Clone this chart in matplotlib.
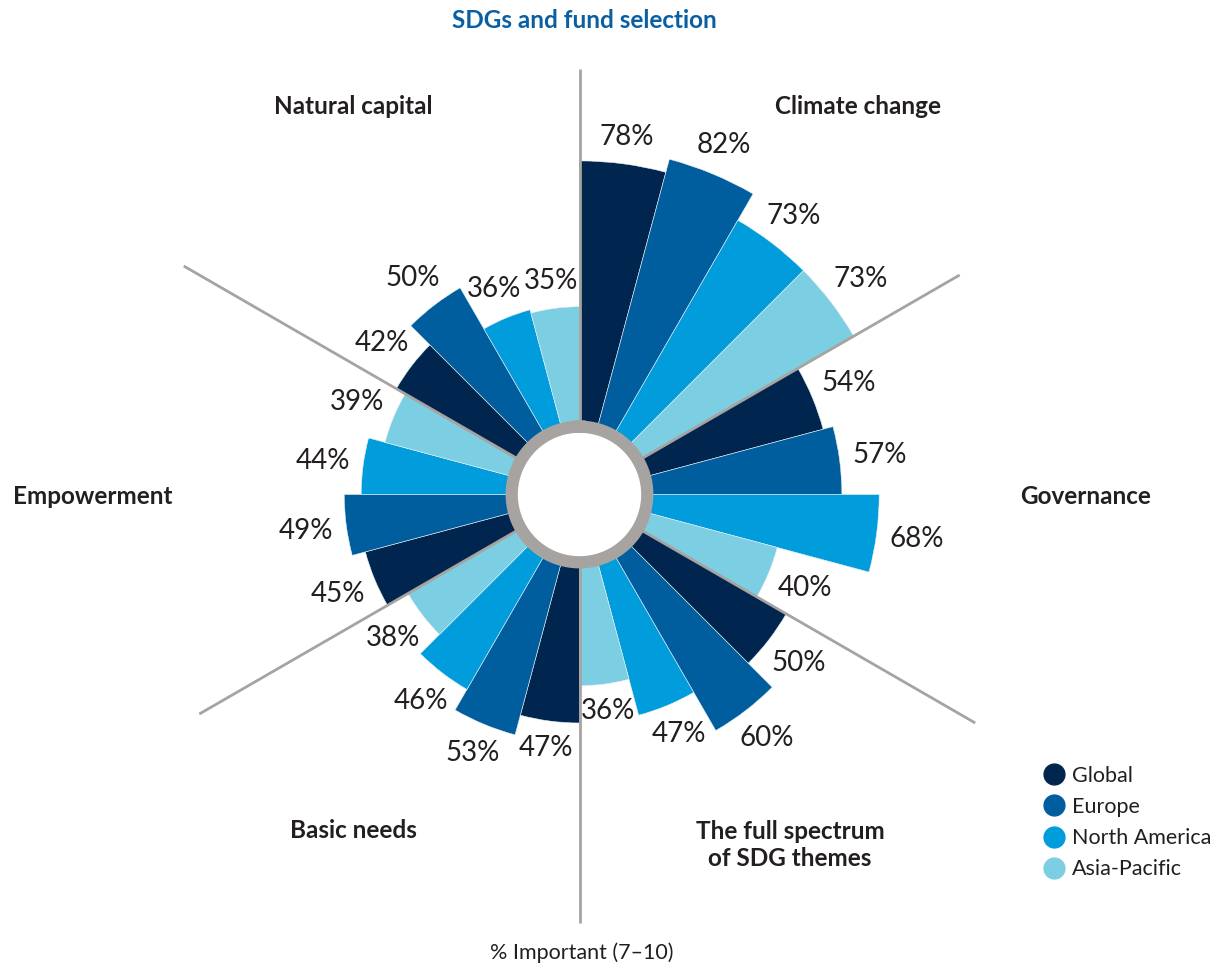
import numpy as np
import matplotlib
matplotlib.use('Agg')
import matplotlib.pyplot as plt
from matplotlib.lines import Line2D

# categories clockwise from 12 o'clock
categories = ['Climate change', 'Governance', 'The full spectrum\nof SDG themes',
              'Basic needs', 'Empowerment', 'Natural capital']
regions = ['Global', 'Europe', 'North America', 'Asia-Pacific']
colors = ['#00264f', '#005e9e', '#009cdc', '#7ccee2']

global_vals = [78, 54, 50, 47, 45, 42]
europe_vals = [82, 57, 60, 53, 49, 50]
namerica_vals = [73, 68, 47, 46, 44, 36]
apac_vals = [73, 40, 36, 38, 39, 35]

W, H = 1224, 967
CX, CY = 579.5, 494.5
PX = 3.39          # pixels per percentage point
BASE = 20.4        # bars start at the grey ring
RMAX = 140

plt.rcParams['font.family'] = ['Lato', 'DejaVu Sans']
fig = plt.figure(figsize=(W / 100, H / 100), dpi=100)
R = RMAX * PX
ax = fig.add_axes([(CX - R) / W, (H - CY - R) / H, 2 * R / W, 2 * R / H], projection='polar')
ax.set_theta_zero_location('N')
ax.set_theta_direction(-1)
ax.set_ylim(0, RMAX)
ax.axis('off')

series = [global_vals, europe_vals, namerica_vals, apac_vals]
n_cat = len(categories)
seg = 2 * np.pi / n_cat
width = seg / len(regions)

for j, vals in enumerate(series):
    thetas = np.arange(n_cat) * seg + (j + 0.5) * width
    ax.bar(thetas, vals, width=width, bottom=BASE, color=colors[j],
           edgecolor='#e8eef2', linewidth=0.4, zorder=2)
    for t, v in zip(thetas, vals):
        end = BASE + v
        r_lab = end + 7.5 + 4.5 * abs(np.sin(t))
        ax.text(t, r_lab, f'{v}%', ha='center', va='center', fontsize=20,
                color='#231f20', zorder=5)

# dividing lines between categories
line_len = [125.4, 129.5, 134.8, 126.3, 129.5, 134.8]
for i in range(n_cat):
    t = i * seg
    ax.plot([t, t], [21.5, line_len[i]], color='#a7a3a0', lw=2.0,
            solid_capstyle='butt', zorder=3, clip_on=False)

# grey ring and white hole
th = np.linspace(0, 2 * np.pi, 400)
ax.fill_between(th, 0, 18.3, color='white', zorder=4)
ax.plot(th, np.full_like(th, 20.0), color='#a7a3a0', lw=8.8, zorder=4)

# category labels
cat_pos = [(858, 107), (1086, 496), (790, 845), (353, 831), (93, 496), (353, 107)]
for name, (x, y) in zip(categories, cat_pos):
    fig.text(x / W, 1 - y / H, name, ha='center', va='center', fontsize=17.5,
             fontweight='bold', color='#231f20', linespacing=1.2)

fig.text(584 / W, 1 - 21 / H, 'SDGs and fund selection', ha='center', va='center',
         fontsize=17.5, fontweight='bold', color='#0a5fa3')
fig.text(582 / W, 1 - 953 / H, '% Important (7\u201310)', ha='center', va='center',
         fontsize=15.5, color='#231f20')

handles = [Line2D([], [], marker='o', ls='', markersize=15, color=c) for c in colors]
fig.legend(handles, regions, loc='upper left', bbox_to_anchor=(1030 / W, 1 - 755 / H),
           frameon=False, fontsize=15.5, handletextpad=0.25, labelspacing=0.52,
           borderpad=0, handlelength=1.2, labelcolor='#231f20')

fig.savefig('out.png', dpi=100)
